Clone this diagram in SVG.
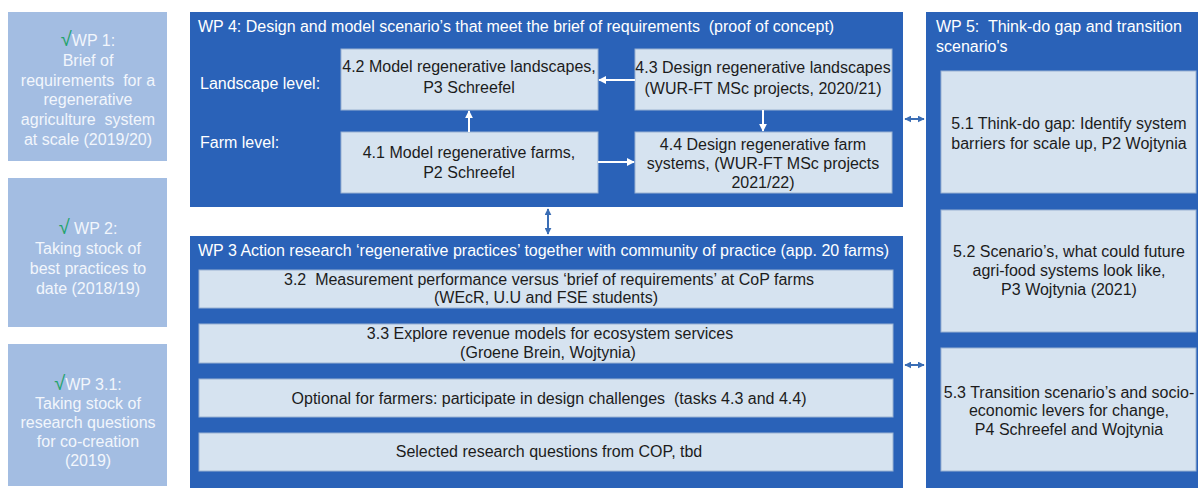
<svg xmlns="http://www.w3.org/2000/svg" width="1198" height="488" viewBox="0 0 1198 488">
<style>
text{font-family:"Liberation Sans",Arial,sans-serif;font-size:16px}
.side{fill:#a3bde2}
.sidet{fill:#f2f6fc;text-anchor:middle}
.chk{fill:#22a36b;font-size:20px;font-family:"DejaVu Sans",sans-serif;font-weight:300}
.wp{fill:#2a62b8}
.wpt{fill:#ffffff}
.inner{fill:#d6e3f0;stroke:#9ab2d2;stroke-width:1}
.it{fill:#1c1c1c;text-anchor:middle}
.wa{stroke:#ffffff;stroke-width:2;fill:none}
.ba{stroke:#3a6db5;stroke-width:2;fill:none}
</style>
<defs>
<marker id="wh" viewBox="0 0 10 10" refX="9" refY="5" markerWidth="4" markerHeight="4" orient="auto" markerUnits="strokeWidth"><path d="M0,0 L10,5 L0,10 z" fill="#ffffff"/></marker>
<marker id="bh" viewBox="0 0 10 10" refX="9" refY="5" markerWidth="3.5" markerHeight="3.5" orient="auto-start-reverse" markerUnits="strokeWidth"><path d="M0,0 L10,5 L0,10 z" fill="#3a6db5"/></marker>
</defs>
<rect width="1198" height="488" fill="#ffffff"/>

<g id="wp1">
<rect class="side" x="8" y="12" width="159" height="149"/>
<text class="sidet" x="88" y="46"><tspan class="chk">√</tspan>WP 1:</text>
<text class="sidet" x="88" y="66">Brief of</text>
<text class="sidet" x="88" y="86" xml:space="preserve">requirements  for a</text>
<text class="sidet" x="88" y="105">regenerative</text>
<text class="sidet" x="88" y="125" xml:space="preserve">agriculture  system</text>
<text class="sidet" x="88" y="145">at scale (2019/20)</text>
</g>

<g id="wp2">
<rect class="side" x="8" y="178" width="159" height="149"/>
<text class="sidet" x="88" y="234" xml:space="preserve"><tspan class="chk">√</tspan> WP 2:</text>
<text class="sidet" x="88" y="254">Taking stock of</text>
<text class="sidet" x="88" y="274">best practices to</text>
<text class="sidet" x="88" y="294">date (2018/19)</text>
</g>

<g id="wp31">
<rect class="side" x="8" y="344" width="159" height="142"/>
<text class="sidet" x="88" y="390"><tspan class="chk">√</tspan>WP 3.1:</text>
<text class="sidet" x="88" y="409">Taking stock of</text>
<text class="sidet" x="88" y="428">research questions</text>
<text class="sidet" x="88" y="447">for co-creation</text>
<text class="sidet" x="88" y="466">(2019)</text>
</g>

<g id="wp4">
<rect class="wp" x="190" y="12" width="713" height="195"/>
<text class="wpt" x="198" y="32" xml:space="preserve">WP 4: Design and model scenario’s that meet the brief of requirements  (proof of concept)</text>
<text class="wpt" x="200" y="89">Landscape level:</text>
<text class="wpt" x="200" y="148">Farm level:</text>
</g>

<g id="t42">
<rect class="inner" x="341" y="49" width="257" height="61"/>
<text class="it" x="469" y="72">4.2 Model regenerative landscapes,</text>
<text class="it" x="469" y="93">P3 Schreefel</text>
</g>

<g id="t43">
<rect class="inner" x="635" y="49" width="257" height="61"/>
<text class="it" x="763" y="73">4.3 Design regenerative landscapes</text>
<text class="it" x="763" y="94">(WUR-FT MSc projects, 2020/21)</text>
</g>

<g id="t41">
<rect class="inner" x="341" y="132" width="257" height="61"/>
<text class="it" x="469" y="158">4.1 Model regenerative farms,</text>
<text class="it" x="469" y="178">P2 Schreefel</text>
</g>

<g id="t44">
<rect class="inner" x="635" y="132" width="257" height="61"/>
<text class="it" x="763" y="150">4.4 Design regenerative farm</text>
<text class="it" x="763" y="169">systems, (WUR-FT MSc projects</text>
<text class="it" x="763" y="188">2021/22)</text>
</g>

<g id="wp3">
<rect class="wp" x="190" y="236" width="713" height="252"/>
<text class="wpt" x="198" y="256">WP 3 Action research ‘regenerative practices’ together with community of practice (app. 20 farms)</text>
</g>

<g id="t32">
<rect class="inner" x="199" y="270" width="694" height="38"/>
<text class="it" x="549" y="285" xml:space="preserve">3.2  Measurement performance versus ‘brief of requirements’ at CoP farms</text>
<text class="it" x="546" y="303">(WEcR, U.U and FSE students)</text>
</g>

<g id="t33">
<rect class="inner" x="199" y="324" width="694" height="39"/>
<text class="it" x="550" y="339">3.3 Explore revenue models for ecosystem services</text>
<text class="it" x="548" y="358">(Groene Brein, Wojtynia)</text>
</g>

<g id="topt">
<rect class="inner" x="199" y="379" width="694" height="38"/>
<text class="it" x="549" y="404" xml:space="preserve">Optional for farmers: participate in design challenges  (tasks 4.3 and 4.4)</text>
</g>

<g id="tsel">
<rect class="inner" x="199" y="433" width="694" height="38"/>
<text class="it" x="549" y="457">Selected research questions from COP, tbd</text>
</g>

<g id="wp5">
<rect class="wp" x="926" y="12" width="272" height="476"/>
<text class="wpt" x="936" y="32" xml:space="preserve">WP 5:  Think-do gap and transition</text>
<text class="wpt" x="936" y="52">scenario's</text>
</g>

<g id="t51">
<rect class="inner" x="941" y="71" width="255" height="122"/>
<text class="it" x="1069" y="129">5.1 Think-do gap: Identify system</text>
<text class="it" x="1069" y="149">barriers for scale up, P2 Wojtynia</text>
</g>

<g id="t52">
<rect class="inner" x="941" y="210" width="255" height="122"/>
<text class="it" x="1069" y="257">5.2 Scenario’s, what could future</text>
<text class="it" x="1069" y="276">agri-food systems look like,</text>
<text class="it" x="1069" y="295">P3 Wojtynia (2021)</text>
</g>

<g id="t53">
<rect class="inner" x="941" y="348" width="255" height="123"/>
<text class="it" x="1069" y="398">5.3 Transition scenario’s and socio-</text>
<text class="it" x="1069" y="416">economic levers for change,</text>
<text class="it" x="1069" y="435">P4 Schreefel and Wojtynia</text>
</g>

<g id="connectors">
<line class="wa" x1="635" y1="80" x2="599" y2="80" marker-end="url(#wh)"/>
<line class="wa" x1="469" y1="132" x2="469" y2="111" marker-end="url(#wh)"/>
<line class="wa" x1="763" y1="110" x2="763" y2="131" marker-end="url(#wh)"/>
<line class="wa" x1="598" y1="162" x2="634" y2="162" marker-end="url(#wh)"/>
<line class="ba" x1="548" y1="209" x2="548" y2="234" marker-start="url(#bh)" marker-end="url(#bh)"/>
<line class="ba" x1="905" y1="119" x2="924" y2="119" stroke-width="1.5" marker-start="url(#bh)" marker-end="url(#bh)"/>
<line class="ba" x1="905" y1="365" x2="924" y2="365" stroke-width="1.5" marker-start="url(#bh)" marker-end="url(#bh)"/>
</g>
</svg>
